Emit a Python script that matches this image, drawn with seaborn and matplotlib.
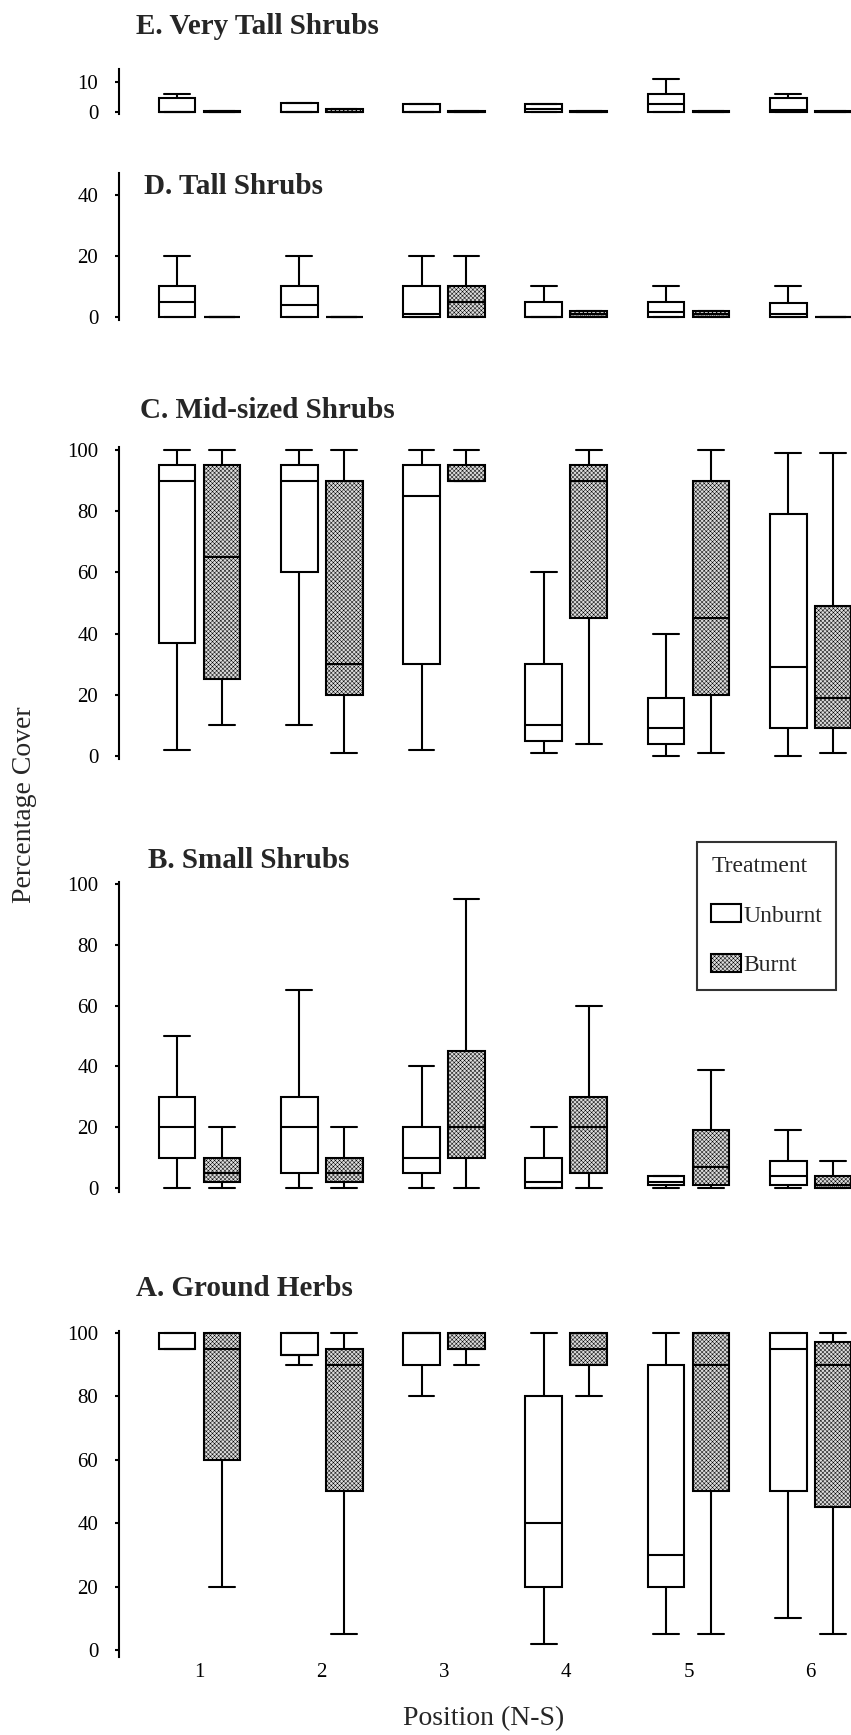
import numpy as np
import pandas as pd
import matplotlib
matplotlib.use("Agg")
import matplotlib.pyplot as plt
import seaborn as sns
from matplotlib.patches import Patch
from matplotlib.colors import to_hex

sns.set_theme(style="white")
plt.rcParams["font.family"] = ["Liberation Serif", "DejaVu Serif"]
plt.rcParams["hatch.linewidth"] = 0.35

positions = ["1", "2", "3", "4", "5", "6"]
treatments = ["Unburnt", "Burnt"]

# five-number summaries: [min, q1, median, q3, max]
e_unburnt = [[0, 0, 0, 4.5, 6], [0, 0, 0, 3, 3], [0, 0, 0, 2.5, 2.5],
             [0, 0, 1, 2.5, 2.5], [0, 0, 2.5, 6, 11], [0, 0, 0.5, 4.5, 6]]
e_burnt = [[0, 0, 0, 0.4, 0.4], [0, 0, 0, 0.8, 0.8], [0, 0, 0, 0.4, 0.4],
           [0, 0, 0, 0.4, 0.4], [0, 0, 0, 0.4, 0.4], [0, 0, 0, 0.4, 0.4]]

d_unburnt = [[0, 0, 5, 10, 20], [0, 0, 4, 10, 20], [0, 0, 1, 10, 20],
             [0, 0, 0, 5, 10], [0, 0, 1.5, 5, 10], [0, 0, 1, 4.5, 10]]
d_burnt = [[0, 0, 0, 0, 0], [0, 0, 0, 0, 0], [0, 0, 5, 10, 20],
           [0, 0, 1, 2, 2], [0, 0, 1, 2, 2], [0, 0, 0, 0, 0]]

c_unburnt = [[2, 37, 90, 95, 100], [10, 60, 90, 95, 100], [2, 30, 85, 95, 100],
             [1, 5, 10, 30, 60], [0, 4, 9, 19, 40], [0, 9, 29, 79, 99]]
c_burnt = [[10, 25, 65, 95, 100], [1, 20, 30, 90, 100], [90, 90, 90, 95, 100],
           [4, 45, 90, 95, 100], [1, 20, 45, 90, 100], [1, 9, 19, 49, 99]]

b_unburnt = [[0, 10, 20, 30, 50], [0, 5, 20, 30, 65], [0, 5, 10, 20, 40],
             [0, 0, 2, 10, 20], [0, 1, 2, 4, 4], [0, 1, 4, 9, 19]]
b_burnt = [[0, 2, 5, 10, 20], [0, 2, 5, 10, 20], [0, 10, 20, 45, 95],
           [0, 5, 20, 30, 60], [0, 1, 7, 19, 39], [0, 0, 1, 4, 9]]

a_unburnt = [[95, 95, 95, 100, 100], [90, 93, 93, 100, 100], [80, 90, 100, 100, 100],
             [2, 20, 40, 80, 100], [5, 20, 30, 90, 100], [10, 50, 95, 100, 100]]
a_burnt = [[20, 60, 95, 100, 100], [5, 50, 90, 95, 100], [90, 95, 95, 100, 100],
           [80, 90, 95, 100, 100], [5, 50, 90, 100, 100], [5, 45, 90, 97, 100]]

titles = ["E. Very Tall Shrubs", "D. Tall Shrubs", "C. Mid-sized Shrubs",
          "B. Small Shrubs", "A. Ground Herbs"]

BURNT = "#dcdcdc"
HATCH = "xxxxxxxx"
W, H = 851, 1735


def long_table(unburnt, burnt):
    rows = []
    for pos, ub, b in zip(positions, unburnt, burnt):
        rows += [(pos, "Unburnt", v) for v in ub]
        rows += [(pos, "Burnt", v) for v in b]
    return pd.DataFrame(rows, columns=["Position", "Treatment", "Cover"])


# layout in pixels: axes top, axes bottom, ylim, yticks, title x, title y
panels = [
    (e_unburnt, e_burnt, 69, 114, (-0.7, 14.3), [0, 10], 136, 27),
    (d_unburnt, d_burnt, 173, 320, (-1, 47.2), [0, 20, 40], 144, 187),
    (c_unburnt, c_burnt, 447, 759, (-1, 101), [0, 20, 40, 60, 80, 100], 140, 410),
    (b_unburnt, b_burnt, 882, 1192, (-1.3, 100.7), [0, 20, 40, 60, 80, 100], 148, 860),
    (a_unburnt, a_burnt, 1331, 1657, (-2.2, 100.6), [0, 20, 40, 60, 80, 100], 136, 1288),
]

fig = plt.figure(figsize=(W / 100, H / 100), dpi=100)
left = 119

for i, (ub, b, top, bot, ylim, yticks, tx, ty) in enumerate(panels):
    ax = fig.add_axes([left / W, 1 - bot / H, (W - left) / W, (bot - top) / H])
    df = long_table(ub, b)
    sns.boxplot(data=df, x="Position", y="Cover", hue="Treatment",
                order=positions, hue_order=treatments,
                palette={"Unburnt": "white", "Burnt": BURNT}, saturation=1,
                width=0.736, gap=0.185, whis=(0, 100), linecolor="black",
                linewidth=1.5, capwidths=0.21, fliersize=0, legend=False, ax=ax)
    for p in ax.patches:
        if to_hex(p.get_facecolor()) == BURNT:
            p.set_hatch(HATCH)
    ax.set_xlim(-0.659, 5.33)
    ax.set_ylim(*ylim)
    ax.set_yticks(yticks)
    ax.set_xlabel("")
    ax.set_ylabel("")
    for s in ["top", "right", "bottom"]:
        ax.spines[s].set_visible(False)
    ax.spines["left"].set_color("black")
    ax.spines["left"].set_linewidth(1.5)
    ax.tick_params(axis="y", length=3, width=1.5, pad=12, labelsize=15,
                   colors="black", left=True)
    if i == len(panels) - 1:
        ax.tick_params(axis="x", length=0, pad=4, labelsize=15, colors="black")
    else:
        ax.tick_params(axis="x", length=0, labelbottom=False)
    fig.text(tx / W, 1 - ty / H, titles[i], fontsize=21, fontweight="bold",
             ha="left", va="center")

fig.text(25 / W, 1 - 805 / H, "Percentage Cover", rotation=90, fontsize=20,
         ha="center", va="center")
fig.text(484 / W, 1 - 1719 / H, "Position (N-S)", fontsize=20,
         ha="center", va="center")

handles = [Patch(facecolor="white", edgecolor="black", linewidth=1.5),
           Patch(facecolor=BURNT, edgecolor="black", linewidth=1.5, hatch=HATCH)]
leg = fig.legend(handles, treatments, title="Treatment", loc="upper left",
                 bbox_to_anchor=(697 / W, 1 - 842 / H), fontsize=17,
                 title_fontsize=17, alignment="left", frameon=True,
                 fancybox=False, handlelength=1.25, handleheight=0.8,
                 handletextpad=0.1, labelspacing=1.15, borderpad=0.6,
                 borderaxespad=0)
leg.get_frame().set_edgecolor("black")
leg.get_frame().set_linewidth(1.5)

fig.savefig("out.png", dpi=100)
